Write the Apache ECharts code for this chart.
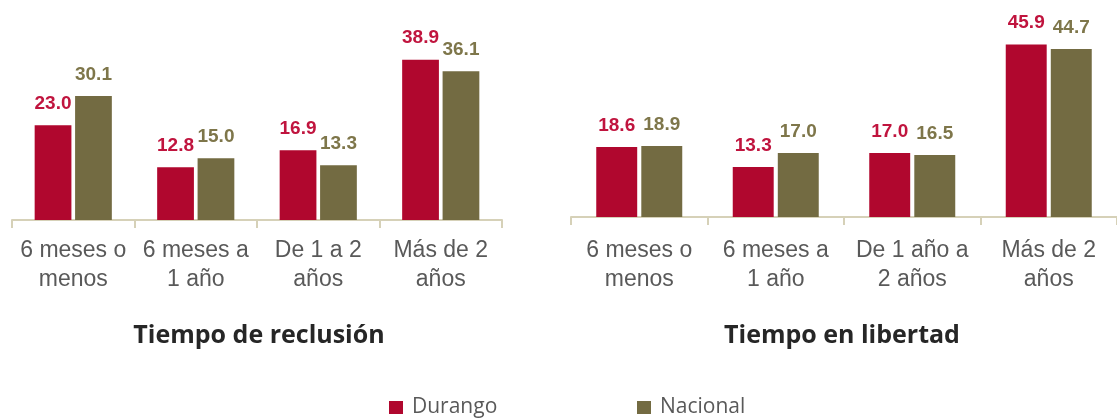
<!DOCTYPE html>
<html>
<head>
<meta charset="utf-8">
<script src="https://cdn.jsdelivr.net/npm/echarts@6/dist/echarts.min.js"></script>
<style>
  html, body { margin: 0; padding: 0; background: #fff; }
  #main { width: 1117px; height: 418px; }
</style>
</head>
<body>
<div id="main"></div>
<script>
// categorias de cada panel
var catReclusion = ['6 meses o\nmenos', '6 meses a\n1 año', 'De 1 a 2\naños', 'Más de 2\naños'];
var catLibertad = ['6 meses o\nmenos', '6 meses a\n1 año', 'De 1 año a\n2 años', 'Más de 2\naños'];

// valores (%)
var durangoReclusion = [23.0, 12.8, 16.9, 38.9];
var nacionalReclusion = [30.1, 15.0, 13.3, 36.1];
var durangoLibertad = [18.6, 13.3, 17.0, 45.9];
var nacionalLibertad = [18.9, 17.0, 16.5, 44.7];

var seriesNames = ['Durango', 'Nacional'];
var panelTitles = ['Tiempo de reclusión', 'Tiempo en libertad'];

var RED = '#B0072E';
var OLIVE = '#736B42';
var AXIS = '#D6D1B8';

var chart = echarts.init(document.getElementById('main'), null, { renderer: 'canvas' });

function xAxisFor(idx, cats, margin) {
  return {
    type: 'category',
    gridIndex: idx,
    data: cats,
    axisLine: { show: true, lineStyle: { color: AXIS, width: 2 } },
    axisTick: { show: true, length: 8, lineStyle: { color: AXIS, width: 2 } },
    axisLabel: {
      color: '#595959',
      fontFamily: 'Liberation Sans, Arial, sans-serif',
      fontSize: 23,
      lineHeight: 29,
      margin: margin,
      interval: 0
    }
  };
}

function yAxisFor(idx) {
  return {
    type: 'value',
    gridIndex: idx,
    min: 0,
    max: 50,
    show: false,
    splitLine: { show: false }
  };
}

function barSeries(name, idx, data, color, labelColor) {
  return {
    name: name,
    type: 'bar',
    xAxisIndex: idx,
    yAxisIndex: idx,
    data: data,
    barWidth: '30%',
    barGap: '10%',
    itemStyle: { color: color },
    label: {
      show: true,
      position: 'top',
      distance: 12,
      color: labelColor,
      fontFamily: 'Liberation Sans, Arial, sans-serif',
      fontWeight: 'bold',
      fontSize: 19,
      formatter: function (p) {
        return p.value.toFixed(1);
      }
    }
  };
}

var titleStyle = { fontFamily: 'Open Sans, Noto Sans, sans-serif', fontWeight: 'bold', fontSize: 25, color: '#262626' };
var legendText = { fontFamily: 'Open Sans, Noto Sans, sans-serif', fontSize: 21, color: '#595959', padding: [0, 0, 0, 4] };

var option = {
  animation: false,
  backgroundColor: '#fff',
  title: [
    { text: panelTitles[0], left: 254, top: 318, textAlign: 'center', textStyle: titleStyle },
    { text: panelTitles[1], left: 837, top: 318, textAlign: 'center', textStyle: titleStyle }
  ],
  legend: [
    { data: [seriesNames[0]], left: 384, top: 392, icon: 'rect', itemWidth: 14, itemHeight: 13, textStyle: legendText },
    { data: [seriesNames[1]], left: 632, top: 392, icon: 'rect', itemWidth: 14, itemHeight: 13, textStyle: legendText }
  ],
  grid: [
    { left: 12, right: 615, top: 14, bottom: 198 },
    { left: 571, right: -13, top: 29, bottom: 201 }
  ],
  xAxis: [xAxisFor(0, catReclusion, 16), xAxisFor(1, catLibertad, 19)],
  yAxis: [yAxisFor(0), yAxisFor(1)],
  series: [
    barSeries(seriesNames[0], 0, durangoReclusion, RED, '#C0143E'),
    barSeries(seriesNames[1], 0, nacionalReclusion, OLIVE, '#7E764A'),
    barSeries(seriesNames[0], 1, durangoLibertad, RED, '#C0143E'),
    barSeries(seriesNames[1], 1, nacionalLibertad, OLIVE, '#7E764A')
  ]
};

chart.setOption(option);
</script>
</body>
</html>
